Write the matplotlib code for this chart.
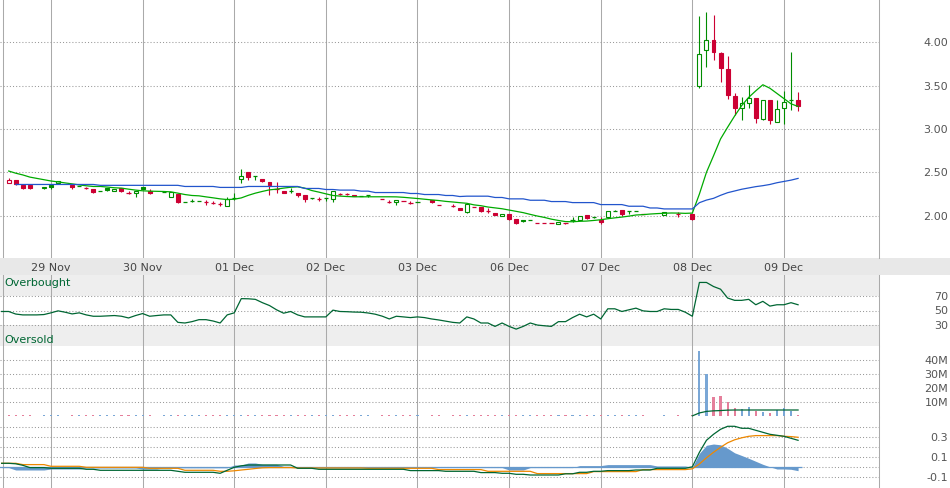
import numpy as np
import matplotlib
matplotlib.use("Agg")
import matplotlib.pyplot as plt
from matplotlib import transforms
from matplotlib.patches import Rectangle

N = np.nan

# half-hour bars, bar -1 .. 112 (28 Nov afternoon to 09 Dec morning)
bars = np.arange(-1, 113)
close_before = 2.42

day_labels = ["29 Nov", "30 Nov", "01 Dec", "02 Dec", "03 Dec", "06 Dec", "07 Dec", "08 Dec", "09 Dec"]
day_first_bar = [6, 19, 32, 45, 58, 71, 84, 97, 110]

opens = [
    N, 2.372, 2.411, 2.353, 2.350, N, 2.314,
    2.357, 2.372, N, 2.357, 2.345, 2.318, 2.306, 2.279, 2.322, 2.279, 2.314, 2.267, 2.256,
    2.326, 2.279, N, 2.268, 2.217, 2.248, 2.157, 2.171, 2.172, 2.155, 2.151, 2.140, 2.116,
    2.205, 2.419, 2.504, 2.453, 2.422, 2.384, 2.302, 2.283, 2.287, 2.260, 2.236, 2.200, 2.194,
    2.200, 2.198, 2.248, 2.245, 2.244, 2.230, 2.233, N, 2.198, 2.159, 2.159, 2.174, 2.150,
    2.163, N, 2.178, 2.128, N, 2.116, 2.089, 2.046, 2.097, 2.097, 2.055, 2.027, 2.000,
    2.023, 1.957, 1.953, 1.953, 1.915, 1.912, 1.910, 1.907, 1.915, 1.950, 1.953, 2.004, 1.984,
    1.953, 1.980, 2.052, 2.070, 2.054, 2.056, 2.023, N, N, 2.012, N, 2.020, N,
    2.016, 3.500, 3.908, 4.023, 3.877, 3.692, 3.377, 3.238, 3.296, 3.362, 3.119, 3.331, 3.085,
    3.238, 3.331, 3.331,
]
highs = [
    N, 2.434, 2.411, 2.353, 2.350, N, 2.330,
    2.357, 2.402, N, 2.357, 2.345, 2.333, 2.306, 2.279, 2.322, 2.302, 2.314, 2.283, 2.287,
    2.330, 2.302, N, 2.268, 2.271, 2.252, 2.157, 2.190, 2.172, 2.178, 2.174, 2.159, 2.210,
    2.267, 2.539, 2.504, 2.453, 2.422, 2.384, 2.384, 2.283, 2.314, 2.260, 2.236, 2.205, 2.217,
    2.200, 2.279, 2.267, 2.267, 2.244, 2.230, 2.233, N, 2.198, 2.182, 2.186, 2.174, 2.165,
    2.163, N, 2.178, 2.128, N, 2.132, 2.089, 2.132, 2.097, 2.097, 2.085, 2.027, 2.023,
    2.023, 1.957, 1.953, 1.953, 1.915, 1.912, 1.910, 1.930, 1.915, 1.980, 2.000, 2.004, 1.990,
    1.984, 2.050, 2.066, 2.070, 2.054, 2.056, 2.023, N, N, 2.043, N, 2.043, N,
    2.016, 4.308, 4.354, 4.319, 3.885, 3.842, 3.415, 3.369, 3.504, 3.362, 3.331, 3.331, 3.331,
    3.438, 3.892, 3.423,
]
lows = [
    N, 2.372, 2.349, 2.310, 2.306, N, 2.310,
    2.302, 2.372, N, 2.310, 2.345, 2.302, 2.260, 2.279, 2.287, 2.279, 2.275, 2.252, 2.210,
    2.310, 2.252, N, 2.268, 2.210, 2.143, 2.157, 2.155, 2.172, 2.128, 2.136, 2.116, 2.116,
    2.186, 2.372, 2.415, 2.415, 2.384, 2.240, 2.260, 2.260, 2.267, 2.217, 2.163, 2.190, 2.171,
    2.170, 2.163, 2.240, 2.236, 2.229, 2.230, 2.210, N, 2.198, 2.143, 2.124, 2.174, 2.140,
    2.163, N, 2.143, 2.128, N, 2.097, 2.066, 2.031, 2.097, 2.043, 2.035, 2.004, 2.000,
    1.946, 1.900, 1.922, 1.953, 1.915, 1.912, 1.910, 1.907, 1.900, 1.930, 1.953, 1.960, 1.978,
    1.907, 1.975, 2.052, 2.000, 2.020, 2.056, 2.023, N, N, 2.012, N, 1.980, N,
    1.946, 3.469, 3.715, 3.796, 3.546, 3.350, 3.165, 3.108, 3.238, 3.073, 3.108, 3.062, 3.077,
    3.062, 3.215, 3.212,
]
closes = [
    N, 2.411, 2.364, 2.322, 2.318, N, 2.329,
    2.333, 2.395, N, 2.333, 2.345, 2.318, 2.275, 2.279, 2.298, 2.302, 2.287, 2.267, 2.287,
    2.310, 2.264, N, 2.268, 2.271, 2.155, 2.157, 2.171, 2.172, 2.155, 2.151, 2.140, 2.190,
    2.205, 2.453, 2.450, 2.453, 2.400, 2.353, 2.302, 2.260, 2.287, 2.236, 2.194, 2.200, 2.194,
    2.200, 2.279, 2.248, 2.245, 2.229, 2.230, 2.233, N, 2.198, 2.159, 2.186, 2.174, 2.150,
    2.163, N, 2.159, 2.128, N, 2.116, 2.066, 2.132, 2.097, 2.058, 2.055, 2.004, 2.023,
    1.965, 1.915, 1.934, 1.953, 1.915, 1.912, 1.910, 1.930, 1.915, 1.950, 2.000, 1.973, 1.984,
    1.930, 2.050, 2.052, 2.016, 2.054, 2.056, 2.023, N, N, 2.043, N, 2.020, N,
    1.961, 3.862, 4.023, 3.892, 3.708, 3.396, 3.246, 3.296, 3.362, 3.131, 3.331, 3.100, 3.227,
    3.315, 3.331, 3.262,
]
ma_short = [
    N, 2.515, 2.490, 2.470, 2.445, 2.430, 2.415,
    2.400, 2.390, 2.378, 2.367, 2.355, 2.345, 2.337, 2.337, 2.330, 2.322, 2.318, 2.306, 2.295,
    2.287, 2.283, 2.281, 2.279, 2.275, 2.260, 2.244, 2.233, 2.229, 2.217, 2.206, 2.194, 2.186,
    2.190, 2.205, 2.235, 2.260, 2.280, 2.298, 2.306, 2.318, 2.328, 2.333, 2.318, 2.290, 2.272,
    2.252, 2.233, 2.226, 2.221, 2.218, 2.218, 2.218, 2.218, 2.218, 2.218, 2.217, 2.212, 2.205,
    2.198, 2.190, 2.182, 2.175, 2.165, 2.158, 2.150, 2.143, 2.125, 2.115, 2.100, 2.090, 2.080,
    2.065, 2.050, 2.035, 2.015, 1.996, 1.980, 1.960, 1.945, 1.932, 1.930, 1.935, 1.938, 1.945,
    1.953, 1.965, 1.975, 1.984, 1.995, 2.008, 2.012, 2.019, 2.024, 2.028, 2.031, 2.030, 2.027,
    2.030, 2.250, 2.500, 2.690, 2.885, 3.020, 3.150, 3.270, 3.365, 3.440, 3.510, 3.470, 3.410,
    3.350, 3.290, 3.260,
]
ma_long = [
    N, N, 2.360, 2.360, 2.360, 2.360, 2.360,
    2.360, 2.360, 2.360, 2.360, 2.360, 2.360, 2.360, 2.350, 2.350, 2.350, 2.350, 2.350, 2.350,
    2.350, 2.350, 2.350, 2.350, 2.350, 2.350, 2.337, 2.337, 2.337, 2.337, 2.337, 2.326, 2.326,
    2.326, 2.326, 2.337, 2.337, 2.337, 2.337, 2.337, 2.337, 2.337, 2.337, 2.314, 2.314, 2.314,
    2.302, 2.302, 2.295, 2.295, 2.295, 2.283, 2.283, 2.267, 2.267, 2.267, 2.267, 2.267, 2.256,
    2.256, 2.244, 2.244, 2.244, 2.233, 2.233, 2.221, 2.225, 2.225, 2.225, 2.225, 2.210, 2.210,
    2.194, 2.194, 2.194, 2.178, 2.178, 2.178, 2.163, 2.163, 2.163, 2.151, 2.151, 2.151, 2.151,
    2.128, 2.128, 2.128, 2.128, 2.109, 2.109, 2.109, 2.089, 2.089, 2.078, 2.078, 2.078, 2.078,
    2.078, 2.150, 2.180, 2.200, 2.235, 2.265, 2.285, 2.305, 2.320, 2.335, 2.346, 2.360, 2.380,
    2.395, 2.410, 2.430,
]
rsi = [
    48.6, 48.6, 45.0, 43.8, 43.8, 43.8, 44.3,
    46.7, 49.5, 47.6, 45.2, 46.7, 43.8, 41.9, 41.9, 42.4, 42.9, 41.9, 39.5, 42.9,
    45.7, 41.9, 42.9, 43.8, 43.8, 33.3, 32.4, 34.3, 37.1, 37.1, 35.2, 32.4, 43.8,
    46.7, 66.7, 66.5, 65.7, 61.0, 57.0, 51.0, 46.2, 48.6, 43.8, 41.0, 41.0, 41.0,
    41.0, 50.5, 48.6, 48.3, 47.8, 47.6, 46.5, 44.8, 42.0, 38.1, 41.9, 41.0, 40.0,
    41.0, 40.0, 38.1, 36.7, 35.0, 33.3, 32.4, 41.0, 38.1, 32.4, 32.4, 27.6, 32.4,
    27.6, 23.8, 27.6, 32.4, 29.5, 28.5, 27.6, 34.3, 34.3, 40.0, 44.8, 41.0, 44.8,
    38.1, 52.4, 52.4, 48.6, 51.0, 53.3, 49.5, 48.6, 48.6, 52.4, 51.5, 51.5, 47.6,
    41.9, 89.5, 89.5, 83.8, 80.0, 67.6, 64.3, 64.3, 65.7, 58.1, 62.9, 56.2, 58.1,
    58.1, 61.0, 58.1,
]
# volume in millions
volume = [
    N, 0.7, 0.7, 0.7, 0.7, N, 0.7,
    0.7, 0.7, N, 0.7, 0.7, 0.7, 0.7, 0.7, 0.7, 0.7, 0.7, 0.7, 0.7,
    0.7, 0.7, N, 0.7, 0.7, 0.7, 0.7, 0.7, 0.7, 0.7, 0.7, 0.7, 0.7,
    0.7, 0.7, 0.7, 0.7, 0.7, 0.7, 0.7, 0.7, 0.7, 0.7, 0.7, 0.7, 0.7,
    0.7, 0.7, 0.7, 0.7, 0.7, 0.7, 0.7, N, 0.7, 0.7, 0.7, 0.7, 0.7,
    0.7, N, 0.7, 0.7, N, 0.7, 0.7, 0.7, 0.7, 0.7, 0.7, 0.7, 0.7,
    0.7, 0.7, 0.7, 0.7, 0.7, 0.7, 0.7, 0.7, 0.7, 0.7, 0.7, 0.7, 0.7,
    0.7, 0.7, 0.7, 0.7, 0.7, 0.7, 0.7, N, N, 0.7, N, 0.7, N,
    0.7, 46.9, 30.2, 14.0, 14.7, 10.2, 6.0, 5.0, 6.9, 4.0, 2.8, 2.4, 4.7,
    5.9, 4.0, 1.1,
]
volume_avg = [N] * 98 + [
    0.3, 2.4, 3.5, 3.9, 4.1, 4.4, 4.5, 4.5, 4.5, 4.5, 4.5, 4.5, 4.5,
    4.5, 4.5, 4.5,
]
macd = [
    0.040, 0.040, 0.035, 0.020, -0.003, -0.003, -0.003,
    -0.010, -0.010, -0.010, -0.010, -0.010, -0.020, -0.020, -0.030, -0.030, -0.030, -0.030, -0.030, -0.030,
    -0.030, -0.030, -0.030, -0.030, -0.030, -0.040, -0.050, -0.050, -0.050, -0.050, -0.050, -0.060, -0.030,
    0.000, 0.015, 0.023, 0.023, 0.023, 0.023, 0.023, 0.023, 0.023, -0.010, -0.010, -0.010, -0.020,
    -0.020, -0.020, -0.020, -0.020, -0.020, -0.020, -0.020, -0.020, -0.020, -0.020, -0.020, -0.020, -0.033,
    -0.033, -0.033, -0.033, -0.033, -0.040, -0.040, -0.040, -0.040, -0.040, -0.053, -0.053, -0.053, -0.060,
    -0.060, -0.070, -0.070, -0.077, -0.077, -0.077, -0.077, -0.077, -0.065, -0.065, -0.050, -0.050, -0.040,
    -0.040, -0.033, -0.033, -0.033, -0.033, -0.027, -0.027, -0.027, -0.010, -0.010, -0.010, -0.010, -0.010,
    0.005, 0.150, 0.270, 0.330, 0.380, 0.410, 0.410, 0.390, 0.390, 0.370, 0.350, 0.330, 0.320,
    0.310, 0.290, 0.270,
]
signal = [
    0.040, 0.040, 0.040, 0.027, 0.027, 0.027, 0.027,
    0.010, 0.010, 0.010, 0.010, 0.010, 0.000, 0.000, 0.000, 0.000, 0.000, 0.000, 0.000, 0.000,
    0.000, -0.010, -0.010, -0.010, -0.010, -0.010, -0.030, -0.030, -0.030, -0.030, -0.030, -0.040, -0.040,
    -0.035, -0.027, -0.020, -0.012, -0.005, -0.003, -0.003, -0.003, -0.003, -0.007, -0.007, -0.007, -0.007,
    -0.007, -0.007, -0.007, -0.007, -0.007, -0.007, -0.010, -0.010, -0.010, -0.010, -0.010, -0.010, -0.010,
    -0.010, -0.010, -0.010, -0.023, -0.023, -0.023, -0.023, -0.023, -0.023, -0.023, -0.040, -0.040, -0.040,
    -0.040, -0.040, -0.040, -0.040, -0.063, -0.063, -0.063, -0.063, -0.063, -0.063, -0.063, -0.063, -0.043,
    -0.043, -0.043, -0.043, -0.043, -0.043, -0.043, -0.023, -0.023, -0.023, -0.023, -0.023, -0.023, -0.023,
    -0.015, 0.033, 0.095, 0.150, 0.200, 0.245, 0.275, 0.295, 0.310, 0.317, 0.317, 0.317, 0.317,
    0.310, 0.307, 0.300,
]
histogram = [
    -0.003, -0.003, -0.027, -0.027, -0.027, -0.027, -0.027,
    -0.017, -0.017, -0.017, -0.017, -0.017, -0.007, -0.007, -0.007, -0.007, -0.007, -0.007, -0.007, -0.007,
    -0.017, -0.017, -0.017, -0.005, -0.005, -0.005, -0.005, -0.005, -0.005, -0.005, -0.005, -0.005, -0.005,
    0.023, 0.023, 0.043, 0.043, 0.030, 0.030, 0.030, 0.010, 0.010, -0.003, -0.003, -0.003, -0.003,
    -0.003, -0.003, -0.003, -0.003, -0.003, -0.003, -0.003, -0.003, -0.003, -0.003, -0.003, -0.003, -0.003,
    -0.003, -0.003, -0.003, -0.003, -0.003, -0.003, -0.003, -0.003, -0.003, -0.003, -0.003, -0.003, -0.003,
    -0.027, -0.027, -0.027, -0.003, -0.003, -0.003, -0.003, -0.003, -0.003, -0.003, 0.017, 0.017, 0.017,
    0.017, 0.027, 0.027, 0.027, 0.027, 0.027, 0.027, 0.027, 0.013, 0.013, 0.013, 0.013, 0.013,
    0.000, 0.140, 0.220, 0.233, 0.225, 0.190, 0.145, 0.118, 0.090, 0.060, 0.030, 0.005, -0.017,
    -0.017, -0.020, -0.034,
]

price_levels = [2.0, 2.5, 3.0, 3.5, 4.0]
rsi_levels = [30, 50, 70]
vol_levels = [10, 20, 30, 40]
macd_levels = [-0.1, 0.0, 0.1, 0.2, 0.3, 0.4]
macd_labels = {0.3: "0.3", 0.1: "0.1", -0.1: "-0.1"}

# ---- layout (pixels) ----
W, H = 950, 489
PLOT_R = 879
BAR0_PX, BAR_PX = 8.7, 7.048
xlim = (-BAR0_PX / BAR_PX, (PLOT_R - BAR0_PX) / BAR_PX)

UP, DOWN = "#008c00", "#cc0033"
VOL_UP, VOL_DOWN = "#7aa7d6", "#e57f9b"
GRID = "#aaaaaa"
DARK = "#006633"
TXT = "#555555"

fig = plt.figure(figsize=(W / 100, H / 100), dpi=100)
fig.patch.set_facecolor("white")


def panel(top, bottom):
    ax = fig.add_axes([0, 1 - bottom / H, PLOT_R / W, (bottom - top) / H])
    ax.set_xlim(*xlim)
    ax.set_xticks([])
    ax.set_yticks([])
    for s in ["left", "top", "bottom"]:
        ax.spines[s].set_visible(False)
    ax.spines["right"].set_color(GRID)
    ax.spines["right"].set_linewidth(0.75)
    for b in [(3 - BAR0_PX) / BAR_PX] + day_first_bar:
        ax.axvline(b, color=GRID, lw=0.75, zorder=1)
    return ax


def hgrid(ax, levels):
    for y in levels:
        ax.axhline(y, color="#999999", lw=0.75, ls=(0, (1, 2)), zorder=1)


def rlabels(ax, levels, texts):
    trans = transforms.blended_transform_factory(fig.transFigure, ax.transData)
    for y, t in zip(levels, texts):
        ax.text(948 / W, y, t, transform=trans, ha="right", va="center",
                fontsize=8, color=TXT, clip_on=False)


# ---- price panel ----
ax = panel(0, 259)
ax.set_ylim(1.512, 4.499)
hgrid(ax, price_levels)
rlabels(ax, price_levels, ["%.2f" % v for v in price_levels])

prev = close_before
up_flags = []
for x, o, h, l, c in zip(bars, opens, highs, lows, closes):
    if np.isnan(o):
        up_flags.append(None)
        continue
    col = UP if c >= prev else DOWN
    up_flags.append(c >= prev)
    prev = c
    ax.vlines(x, l, h, color=col, lw=0.8, zorder=3)
    if o == c:
        ax.hlines(c, x - 0.3, x + 0.3, color=col, lw=0.9, zorder=4)
    else:
        ax.add_patch(Rectangle((x - 0.28, min(o, c)), 0.56, abs(c - o),
                               facecolor="white" if c > o else col,
                               edgecolor=col, lw=0.8, zorder=4))

ax.plot(bars, ma_short, color="#00aa00", lw=0.9, zorder=5)
ax.plot(bars, ma_long, color="#2255cc", lw=0.9, zorder=5)

# date band
fig.add_artist(Rectangle((0, 1 - 276 / H), 1, 17 / H, transform=fig.transFigure,
                         facecolor="#e8e8e8", edgecolor="none", zorder=0))
dtrans = transforms.blended_transform_factory(ax.transData, fig.transFigure)
for b, lab in zip(day_first_bar, day_labels):
    ax.text(b, 1 - 268 / H, lab, transform=dtrans, ha="center", va="center",
            fontsize=8, color="#444444", clip_on=False)

# ---- RSI panel ----
ax_r = panel(276, 347)
ax_r.set_ylim(0, 100)
ax_r.axhspan(70, 100, color="#eeeeee", lw=0, zorder=0)
ax_r.axhspan(0, 30, color="#eeeeee", lw=0, zorder=0)
hgrid(ax_r, rsi_levels)
ax_r.plot(bars, rsi, color=DARK, lw=0.9, zorder=3)
rlabels(ax_r, [70, 50, 30], ["70", "50", "30"])
ax_r.text(4 / PLOT_R, 1 - 7 / 71, "Overbought", transform=ax_r.transAxes,
          ha="left", va="center", fontsize=8, color=DARK)
ax_r.text(4 / PLOT_R, 1 - 64 / 71, "Oversold", transform=ax_r.transAxes,
          ha="left", va="center", fontsize=8, color=DARK)

# ---- volume panel ----
ax_v = panel(347, 418)
ax_v.set_ylim(-0.5, 50.2)
hgrid(ax_v, vol_levels)
vcols = [VOL_UP if f else VOL_DOWN for f in up_flags]
ax_v.bar(bars, volume, width=0.3, color=vcols, lw=0, zorder=3, antialiased=False)
ax_v.plot(bars, volume_avg, color=DARK, lw=0.9, zorder=4)
rlabels(ax_v, vol_levels, ["%dM" % v for v in vol_levels])

# ---- MACD panel ----
ax_m = panel(418, 489)
ax_m.set_ylim(-0.207, 0.503)
hgrid(ax_m, macd_levels)
ax_m.fill_between(bars, 0, histogram, color="#6699cc", lw=0, zorder=2)
ax_m.hlines(0, bars[0] - 0.5, bars[-1] + 0.5, color="#6699cc", lw=0.9, zorder=2)
ax_m.plot(bars, macd, color=DARK, lw=0.9, zorder=4)
ax_m.plot(bars, signal, color="#ee8800", lw=0.9, zorder=3)
rlabels(ax_m, list(macd_labels.keys()), list(macd_labels.values()))

fig.savefig("out.png", dpi=100)
